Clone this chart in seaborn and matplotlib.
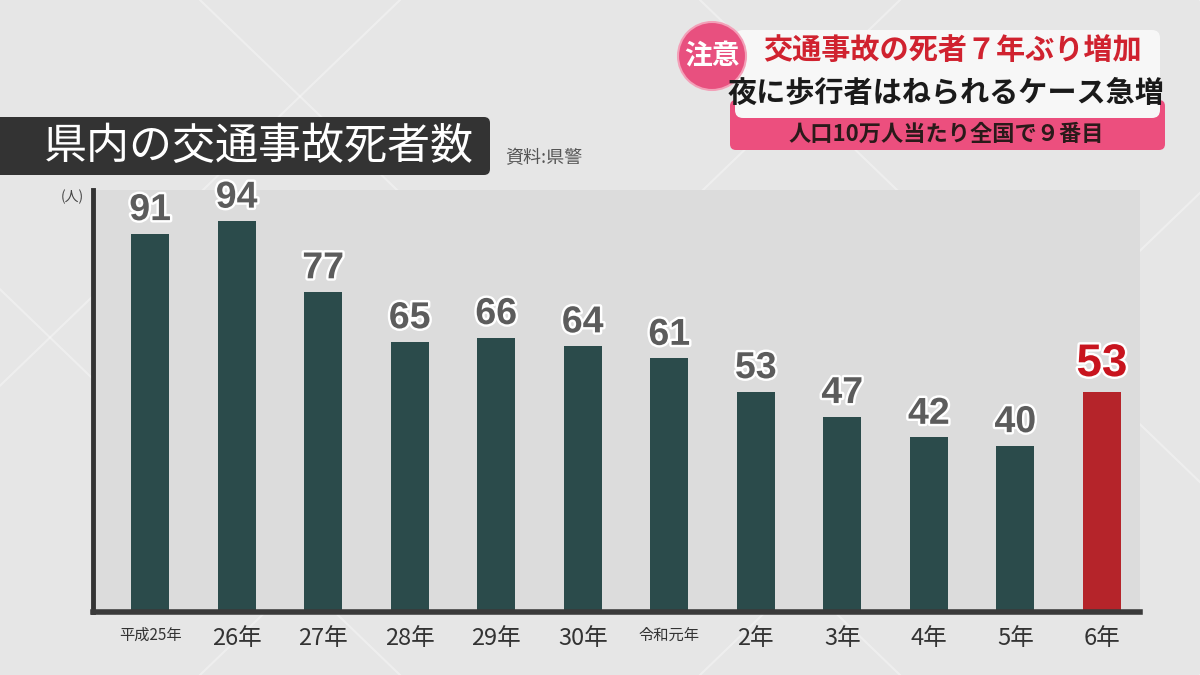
import numpy as np
import pandas as pd
import seaborn as sns
import matplotlib.pyplot as plt
import matplotlib.patheffects as pe
from matplotlib.patches import FancyBboxPatch, Circle

# データ
years = ["平成25年", "26年", "27年", "28年", "29年", "30年", "令和元年",
         "2年", "3年", "4年", "5年", "6年"]
deaths = [91, 94, 77, 65, 66, 64, 61, 53, 47, 42, 40, 53]
bar_colors = ["#2b4b4b"] * 11 + ["#b5242a"]
small_ticks = ["平成25年", "令和元年"]

sns.set_theme(style="white")
plt.rcParams['font.family'] = ['Noto Sans CJK JP', 'DejaVu Sans']

df = pd.DataFrame({"年": years, "死者数": deaths})

fig = plt.figure(figsize=(12, 6.75), dpi=100)
fig.patch.set_facecolor("#e6e6e6")

# 背景の斜め模様
bg = fig.add_axes([0, 0, 1, 1], zorder=0)
bg.set_xlim(0, 1200)
bg.set_ylim(675, 0)
bg.axis("off")
for x0 in [-300, 200, 700, 1200]:
    bg.plot([x0, x0 + 700], [0, 675], color="white", lw=1.5, alpha=0.35)
    bg.plot([x0 + 700, x0], [0, 675], color="white", lw=1.5, alpha=0.35)

# 棒グラフ
ax = fig.add_axes([93 / 1200, 1 - 612 / 675, (1140 - 93) / 1200, (612 - 190) / 675], zorder=1)
ax.set_facecolor("#dcdcdc")
sns.barplot(data=df, x="年", y="死者数", hue="年", palette=bar_colors,
            width=0.44, legend=False, ax=ax, saturation=1, linewidth=0)
ax.set_ylim(0, 101.5)
ax.set_xlim(-0.66, 11.44)
ax.set_xlabel("")
ax.set_ylabel("")
ax.set_yticks([])

for i, cont in enumerate(ax.containers):
    if i == len(ax.containers) - 1:
        texts = ax.bar_label(cont, padding=4, fontsize=33, fontweight="bold",
                             color="#c8141e", family=['Liberation Sans', 'DejaVu Sans'])
    else:
        texts = ax.bar_label(cont, padding=4, fontsize=27, fontweight="bold",
                             color="#5c5c5c", family=['Liberation Sans', 'DejaVu Sans'])
    for t in texts:
        t.set_path_effects([pe.withStroke(linewidth=3.5, foreground="white")])

for s in ["top", "right"]:
    ax.spines[s].set_visible(False)
ax.spines["left"].set_color("#333333")
ax.spines["left"].set_linewidth(3.5)
ax.spines["bottom"].set_color("#3a3a3a")
ax.spines["bottom"].set_linewidth(4)
ax.tick_params(axis="x", length=0, pad=11)
for lbl in ax.get_xticklabels():
    if lbl.get_text() in small_ticks:
        lbl.set_fontsize(11)
    else:
        lbl.set_fontsize(17)
    lbl.set_color("#333333")

# 上のオーバーレイ
top = fig.add_axes([0, 0, 1, 1], zorder=2)
top.set_xlim(0, 1200)
top.set_ylim(675, 0)
top.axis("off")
top.patch.set_alpha(0)

# タイトル
top.add_patch(FancyBboxPatch((-20, 117), 510, 58, boxstyle="round,pad=0,rounding_size=6",
                             facecolor="#333333", edgecolor="none"))
top.text(259, 147, "県内の交通事故死者数", color="white", fontsize=31,
         ha="center", va="center")
top.text(505, 158, "資料:県警", color="#555555", fontsize=13, ha="left", va="center")
top.text(72, 197, "(人)", color="#444444", fontsize=10, ha="center", va="center")

# 見出しバナー
top.add_patch(FancyBboxPatch((730, 100), 435, 50, boxstyle="round,pad=0,rounding_size=6",
                             facecolor="#ec4f7e", edgecolor="none"))
top.add_patch(FancyBboxPatch((735, 30), 425, 88, boxstyle="round,pad=0,rounding_size=8",
                             facecolor="#f7f7f7", edgecolor="none"))
top.add_patch(Circle((712, 56), 34, facecolor="#e8507f", edgecolor="#f3a0b8", lw=1.5))
top.text(712, 56, "注意", color="white", fontsize=20, fontweight="bold",
         ha="center", va="center")
top.text(952, 50, "交通事故の死者７年ぶり増加", color="#d0222f", fontsize=21,
         fontweight="bold", ha="center", va="center")
top.text(946, 93, "夜に歩行者はねられるケース急増", color="#1a1a1a", fontsize=21,
         fontweight="bold", ha="center", va="center")
top.text(946, 134, "人口10万人当たり全国で９番目", color="#2a1a1a", fontsize=16,
         fontweight="bold", ha="center", va="center")

fig.savefig("out.png", dpi=100, facecolor=fig.get_facecolor())
